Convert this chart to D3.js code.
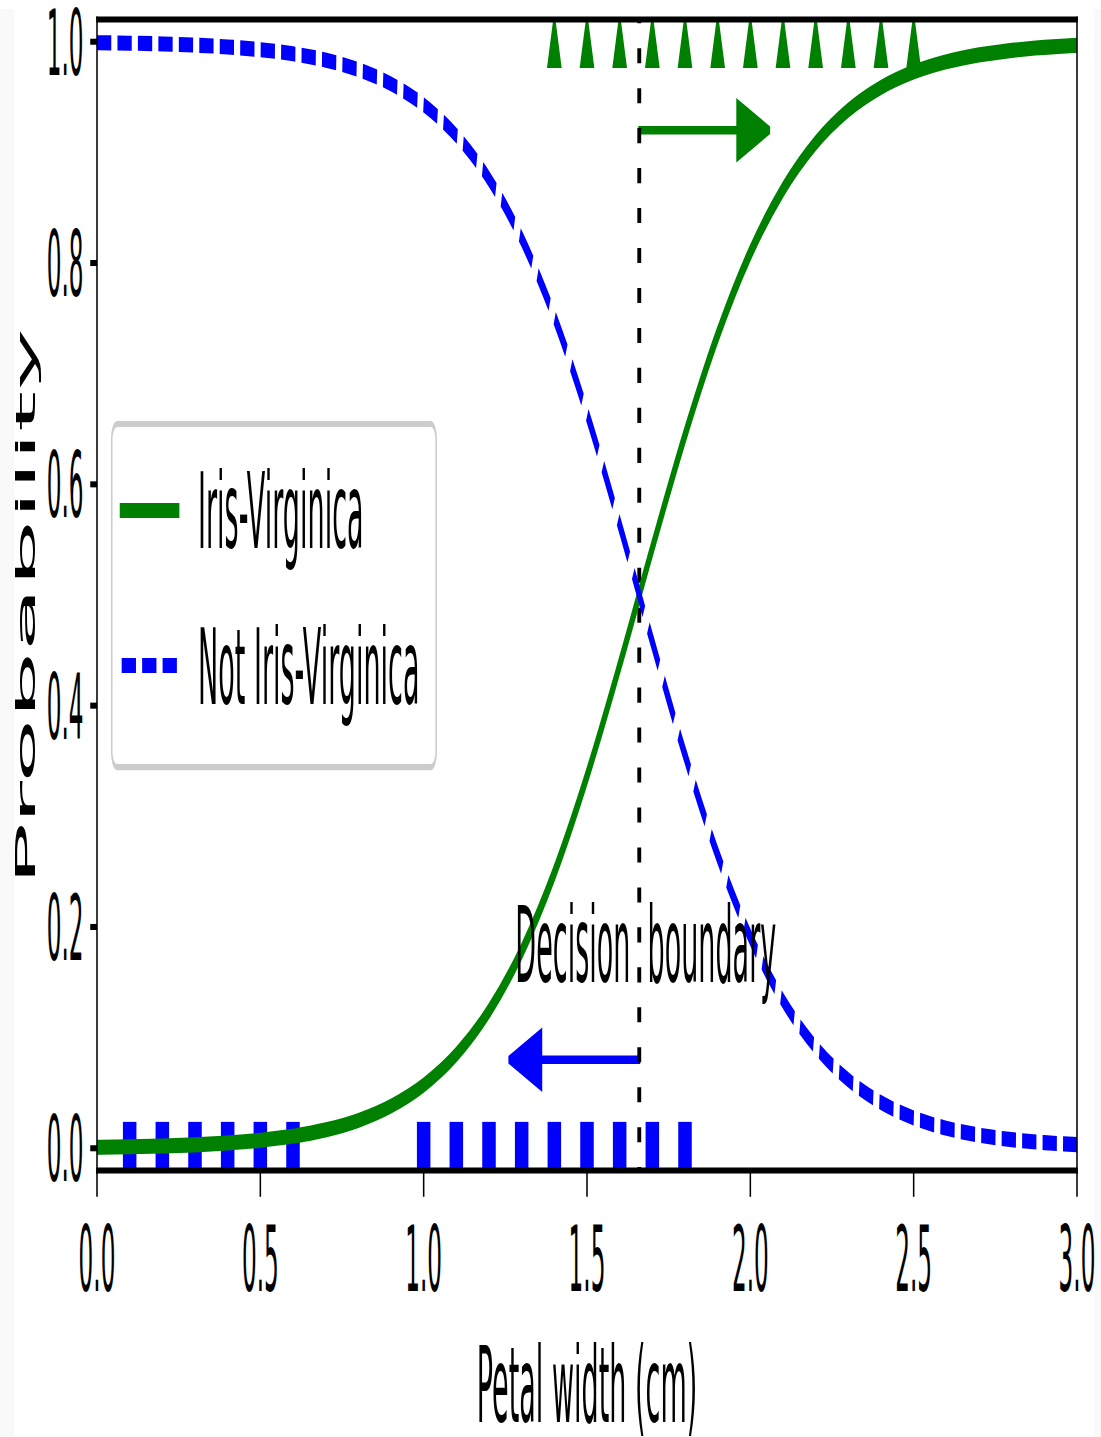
<!DOCTYPE html>
<html>
<head>
<meta charset="utf-8">
<script src="https://cdn.jsdelivr.net/npm/d3@7"></script>
<style>
  html, body { margin: 0; padding: 0; background: #ffffff; }
  svg { display: block; }
  text { font-family: "DejaVu Sans", sans-serif; }
</style>
</head>
<body>
<svg id="chart" width="1101" height="1437"></svg>
<script>
// ---------------- data ----------------
const petalWidthGrid = [0.0, 0.1, 0.2, 0.3, 0.4, 0.5, 0.6, 0.7, 0.8, 0.9,
                        1.0, 1.1, 1.2, 1.3, 1.4, 1.5, 1.6, 1.7, 1.8, 1.9,
                        2.0, 2.1, 2.2, 2.3, 2.4, 2.5, 2.6, 2.7, 2.8, 2.9, 3.0];
const probVirginica = [0.0009, 0.0013, 0.0020, 0.0031, 0.0047, 0.0072, 0.0109, 0.0166, 0.0252, 0.0381,
                       0.0571, 0.0847, 0.1240, 0.1780, 0.2488, 0.3363, 0.4366, 0.5424, 0.6445, 0.7350,
                       0.8093, 0.8665, 0.9085, 0.9382, 0.9587, 0.9726, 0.9819, 0.9881, 0.9922, 0.9949, 0.9967];
const probNotVirginica = [0.9991, 0.9987, 0.9980, 0.9969, 0.9953, 0.9928, 0.9891, 0.9834, 0.9748, 0.9619,
                          0.9429, 0.9153, 0.8760, 0.8220, 0.7512, 0.6637, 0.5634, 0.4576, 0.3555, 0.2650,
                          0.1907, 0.1335, 0.0915, 0.0618, 0.0413, 0.0274, 0.0181, 0.0119, 0.0078, 0.0051, 0.0033];
const notVirginicaSamples = [0.1, 0.2, 0.3, 0.4, 0.5, 0.6, 1.0, 1.1, 1.2, 1.3, 1.4, 1.5, 1.6, 1.7, 1.8];
const virginicaSamples = [1.4, 1.5, 1.6, 1.7, 1.8, 1.9, 2.0, 2.1, 2.2, 2.3, 2.4, 2.5];
const decisionBoundary = 1.66;
const xTicks = [0.0, 0.5, 1.0, 1.5, 2.0, 2.5, 3.0];
const yTicks = [0.0, 0.2, 0.4, 0.6, 0.8, 1.0];
const seriesNames = ["Iris-Virginica", "Not Iris-Virginica"];
const xTitle = "Petal width (cm)";
const yTitle = "Probability";
const boundaryText = "Decision  boundary";

// ---------------- layout ----------------
// The picture is a non-uniformly stretched figure: drawing happens in
// "point" units, then the group is scaled to pixels.
const SX = 1.93, SY = 7.54;
const svg = d3.select("#chart");

// light side margins of the photographed figure
svg.append("rect").attr("x", 0).attr("y", 9).attr("width", 14).attr("height", 1428).attr("fill", "#f9f9f9");
svg.append("rect").attr("x", 1094).attr("y", 9).attr("width", 7).attr("height", 1428).attr("fill", "#f9f9f9");

const g = svg.append("g").attr("transform", `scale(${SX},${SY})`);

const x = d3.scaleLinear().domain([0, 3]).range([97 / SX, 1077 / SX]);
const y = d3.scaleLinear().domain([-0.02, 1.02]).range([1170.4 / SY, 19.6 / SY]);

const [x0, x1] = x.range();
const [yb, yt] = y.range();

g.append("defs").append("clipPath").attr("id", "axclip")
  .append("rect").attr("x", x0).attr("y", yt).attr("width", x1 - x0).attr("height", yb - yt);

const plot = g.append("g").attr("clip-path", "url(#axclip)");

// ---------------- arrows (patches, below lines) ----------------
function arrowPath(xs, ys, dx) {
  const headL = 0.1, headW = 0.05, w = 0.001;
  const s = Math.sign(dx);
  const baseX = xs + dx;
  const tipX = xs + dx + s * headL;
  const pts = [
    [xs, ys + w / 2], [baseX, ys + w / 2], [baseX, ys + headW / 2], [tipX, ys],
    [baseX, ys - headW / 2], [baseX, ys - w / 2], [xs, ys - w / 2]
  ];
  return "M" + pts.map(p => x(p[0]) + "," + y(p[1])).join("L") + "Z";
}
plot.append("path").attr("d", arrowPath(decisionBoundary, 0.08, -0.3))
  .attr("fill", "#0000ff").attr("stroke", "#0000ff").attr("stroke-width", 1).attr("stroke-linejoin", "miter");
plot.append("path").attr("d", arrowPath(decisionBoundary, 0.92, 0.3))
  .attr("fill", "#008000").attr("stroke", "#008000").attr("stroke-width", 1).attr("stroke-linejoin", "miter");

// ---------------- sample markers ----------------
plot.selectAll("rect.neg").data(notVirginicaSamples).enter().append("rect")
  .attr("class", "neg")
  .attr("x", d => x(d) - 3).attr("y", y(0) - 3).attr("width", 6).attr("height", 6)
  .attr("fill", "#0000ff").attr("stroke", "#0000ff").attr("stroke-width", 1);

plot.selectAll("path.pos").data(virginicaSamples).enter().append("path")
  .attr("class", "pos")
  .attr("d", d => `M${x(d)},${y(1) - 3}L${x(d) - 3},${y(1) + 3}L${x(d) + 3},${y(1) + 3}Z`)
  .attr("fill", "#008000").attr("stroke", "#008000").attr("stroke-width", 1);

// ---------------- decision boundary ----------------
plot.append("line")
  .attr("x1", x(decisionBoundary)).attr("x2", x(decisionBoundary))
  .attr("y1", y(1.02)).attr("y2", y(-0.02))
  .attr("stroke", "#000").attr("stroke-width", 2)
  .attr("stroke-dasharray", "2,3.3").attr("stroke-dashoffset", 1.51);

// ---------------- probability curves ----------------
const lineGen = vals => d3.line()
  .x((d, i) => x(petalWidthGrid[i]))
  .y(d => y(d))
  .curve(d3.curveMonotoneX)(vals);

plot.append("path").attr("d", lineGen(probVirginica))
  .attr("fill", "none").attr("stroke", "#008000").attr("stroke-width", 2)
  .attr("stroke-linecap", "square").attr("stroke-linejoin", "round");
plot.append("path").attr("d", lineGen(probNotVirginica))
  .attr("fill", "none").attr("stroke", "#0000ff").attr("stroke-width", 2)
  .attr("stroke-dasharray", "7.4,3.2").attr("stroke-linecap", "butt");

// ---------------- spines ----------------
const sp = g.append("g").attr("stroke", "#000").attr("stroke-width", 0.8).attr("stroke-linecap", "square");
sp.append("line").attr("x1", x0).attr("x2", x0).attr("y1", yt).attr("y2", yb);
sp.append("line").attr("x1", x1).attr("x2", x1).attr("y1", yt).attr("y2", yb);
sp.append("line").attr("x1", x0).attr("x2", x1).attr("y1", yt).attr("y2", yt);
sp.append("line").attr("x1", x0).attr("x2", x1).attr("y1", yb).attr("y2", yb);

// ---------------- text annotation ----------------
g.append("text")
  .attr("x", x(decisionBoundary + 0.02)).attr("y", y(0.15))
  .attr("text-anchor", "middle").attr("font-size", 14)
  .style("white-space", "pre").attr("fill", "#000")
  .text(boundaryText);

// ---------------- axes ----------------
const fmt = d3.format(".1f");
const xAxis = d3.axisBottom(x).tickValues(xTicks).tickFormat(fmt)
  .tickSize(3.5).tickPadding(3.5).offset(0);
const yAxis = d3.axisLeft(y).tickValues(yTicks).tickFormat(fmt)
  .tickSize(3.5).tickPadding(3.5).offset(0);

const gx = g.append("g").attr("transform", `translate(0,${yb})`).call(xAxis);
const gy = g.append("g").attr("transform", `translate(${x0},0)`).call(yAxis);
[gx, gy].forEach(ax => {
  ax.select(".domain").remove();
  ax.attr("font-family", "DejaVu Sans, sans-serif").attr("font-size", 12).attr("color", "#000");
  ax.selectAll(".tick line").attr("stroke-width", 0.8);
});
gx.selectAll(".tick text").attr("dy", "0.755em");
gy.selectAll(".tick text").attr("dy", "0.364em");

g.append("text")
  .attr("x", (x0 + x1) / 2).attr("y", 1422 / SY)
  .attr("text-anchor", "middle").attr("font-size", 14).attr("fill", "#000")
  .text(xTitle);

g.append("text")
  .attr("transform", `translate(${35 / SX},${607 / SY}) rotate(-90)`)
  .attr("text-anchor", "middle").attr("font-size", 14).attr("fill", "#000")
  .text(yTitle);

// ---------------- legend ----------------
const lg = g.append("g");
lg.append("rect")
  .attr("x", 57.9).attr("y", 56.24).attr("width", 168.1).attr("height", 45.5)
  .attr("rx", 2.8).attr("ry", 2.0)
  .attr("fill", "#ffffff").attr("fill-opacity", 0.8)
  .attr("stroke", "#cccccc").attr("stroke-width", 0.8);

const legendRows = [
  { name: seriesNames[0], color: "#008000", dash: null, ly: 67.7, ty: 72.68 },
  { name: seriesNames[1], color: "#0000ff", dash: "7.4,3.2", ly: 88.26, ty: 93.37 }
];
legendRows.forEach(r => {
  const ln = lg.append("line")
    .attr("x1", 63.05).attr("x2", 91.95).attr("y1", r.ly).attr("y2", r.ly)
    .attr("stroke", r.color).attr("stroke-width", 2);
  if (r.dash) ln.attr("stroke-dasharray", r.dash).attr("stroke-linecap", "butt");
  else ln.attr("stroke-linecap", "square");
  lg.append("text").attr("x", 102.6).attr("y", r.ty)
    .attr("font-size", 14).attr("fill", "#000").text(r.name);
});
</script>
</body>
</html>
